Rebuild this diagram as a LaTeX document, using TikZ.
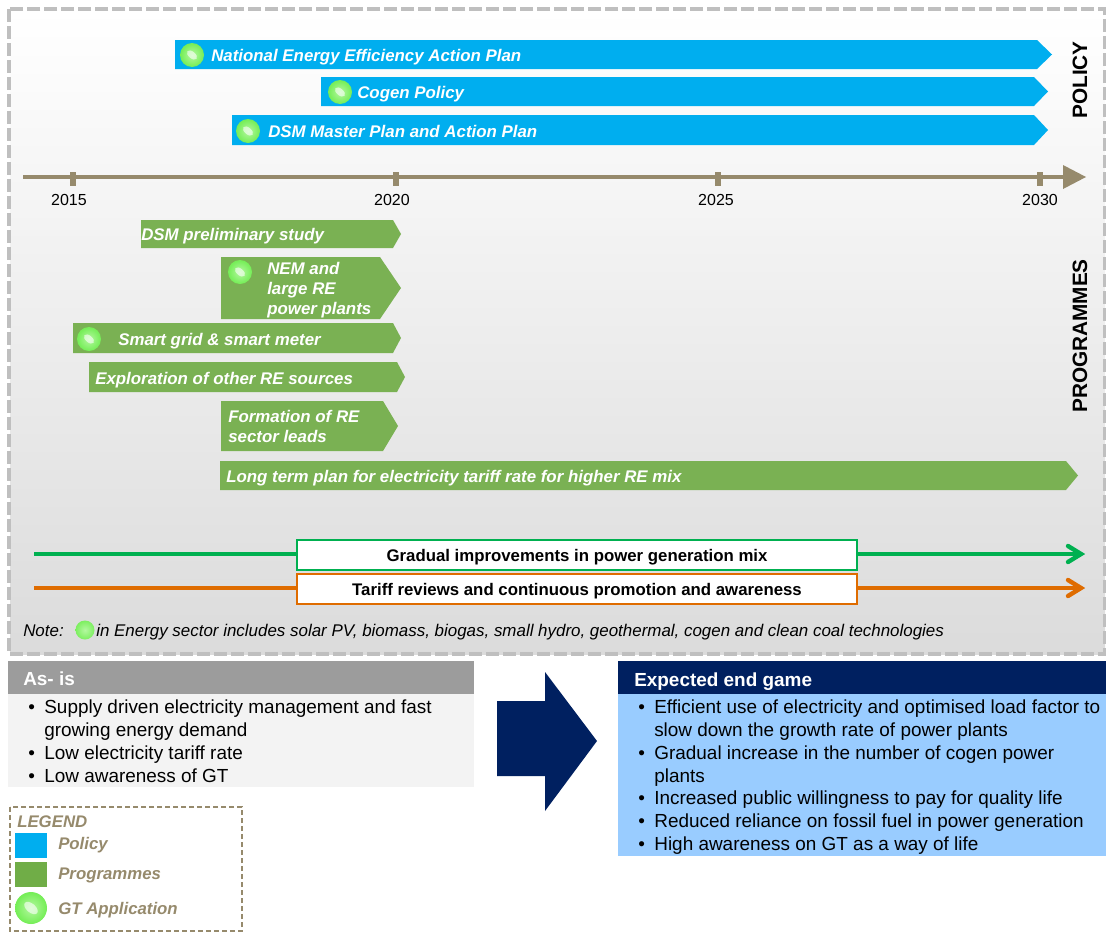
\documentclass[tikz,border=0pt]{standalone}
\usepackage{fontspec}
\setmainfont{Liberation Sans}
\definecolor{polblue}{HTML}{00AEEF}
\definecolor{proggreen}{HTML}{7AB153}
\definecolor{legreen}{HTML}{70AD47}
\definecolor{taupe}{HTML}{968A6C}
\definecolor{frame}{HTML}{BFBFBF}
\definecolor{navy}{HTML}{002060}
\definecolor{lineg}{HTML}{00B050}
\definecolor{lineo}{HTML}{DF6C00}
\definecolor{ballrim}{HTML}{2F9E45}
\definecolor{ballmid}{HTML}{76EE58}
\definecolor{ballin}{HTML}{B4F8A0}
\definecolor{asgray}{HTML}{9C9C9C}
\definecolor{asbody}{HTML}{F3F3F3}
\definecolor{egbody}{HTML}{99CCFF}
\pgfdeclareradialshading{ballsh}{\pgfpoint{0bp}{0bp}}{color(0bp)=(ballin); color(24bp)=(ballmid); color(38bp)=(ballmid); color(50bp)=(ballrim)}
\pgfdeclareradialshading{notesh}{\pgfpoint{0bp}{0bp}}{color(0bp)=(ballin); color(28bp)=(ballmid); color(50bp)=(ballmid!75!ballrim)}
\tikzset{x=0.75pt,y=-0.75pt,
 bartext/.style={anchor=west,inner sep=0pt,font=\fontsize{12.65}{15}\selectfont\bfseries\itshape,text=white,align=left},
 yeartext/.style={inner sep=0pt,font=\fontsize{12}{14}\selectfont},
 sidetext/.style={inner sep=0pt,rotate=90,font=\fontsize{15.6}{18}\selectfont\bfseries},
 boxtext/.style={draw,fill=white,line width=0.9pt,minimum width=420pt,minimum height=22.5pt,inner sep=0pt,text height=9pt,text depth=0pt,font=\fontsize{12.6}{15}\selectfont\bfseries},
 bodytext/.style={anchor=west,inner sep=0pt,font=\fontsize{14.2}{17}\selectfont},
 headtext/.style={anchor=west,inner sep=0pt,font=\fontsize{14.2}{17}\selectfont\bfseries,text=white},
 legtext/.style={anchor=west,inner sep=0pt,font=\fontsize{12.6}{15}\selectfont\bfseries\itshape,text=taupe},
 notetext/.style={anchor=west,inner sep=0pt,font=\fontsize{12.7}{15}\selectfont\itshape},
 flow/.style={line width=3.3pt},
 chevron/.style={line width=3.3pt,line cap=round,line join=miter},
}
\newcommand{\pentagon}[6]{\fill[#6] (#1,#2) -- (#3,#2) -- (#4,{(#2+#5)/2}) -- (#3,#5) -- (#1,#5) -- cycle;}
\newcommand{\gtball}[3]{%
 \shade[shading=ballsh] (#1,#2) circle (#3);
 \fill[white,opacity=0.6,rotate around={-40:(#1,#2)}] (#1,#2) ellipse ({#3*0.5} and {#3*0.28});}
\begin{document}
\begin{tikzpicture}
\useasboundingbox (0,0) rectangle (1106,932);
\fill[white] (0,0) rectangle (1106,932);
% frame
\shade[top color=white,bottom color=black!14] (10,10) rectangle (1105,654);
\draw[frame,line width=2.6pt,dash pattern=on 9.75pt off 3pt] (9,9) rectangle (1105,654);
% policy bars
\pentagon{175}{40}{1037}{1052}{69}{polblue}
\pentagon{321}{77}{1034}{1048}{106}{polblue}
\pentagon{232}{115}{1034}{1048}{145}{polblue}
\gtball{192}{55}{12}
\gtball{340}{92}{12}
\gtball{248}{131}{12}
\node[bartext] (p1) at (211,57) {National Energy Efficiency Action Plan};
\node[bartext] (p2) at (357,94) {Cogen Policy};
\node[bartext] (p3) at (268,131) {DSM Master Plan and Action Plan};
\node[sidetext] (policy) at (1080,80) {POLICY};
% timeline
\coordinate (tl0) at (23,177);
\coordinate (tl1) at (1086,177);
\fill[taupe] (1063,165) -- (1086,177) -- (1063,189) -- cycle;
\draw[taupe,line width=3.4pt] (tl0) -- (1064,177);
\foreach \tx in {73,396,718,1040}{\fill[taupe] (\tx-3,172) rectangle (\tx+3,186);}
\node[yeartext] (y15) at (69,200) {2015};
\node[yeartext] (y20) at (392,200) {2020};
\node[yeartext] (y25) at (716,200) {2025};
\node[yeartext] (y30) at (1040,200) {2030};
% programmes
\pentagon{141}{220}{393}{401}{248}{proggreen}
\pentagon{221}{257}{380}{401}{319}{proggreen}
\pentagon{73}{323}{393}{401}{353}{proggreen}
\pentagon{89}{362}{397}{405}{392}{proggreen}
\pentagon{221}{401}{383}{398}{451}{proggreen}
\pentagon{220}{461}{1066}{1078}{490}{proggreen}
\gtball{240}{272}{12}
\gtball{89}{339}{12}
\node[bartext] (g1) at (141,236) {DSM preliminary study};
\node[bartext] (g2) at (267,290) {NEM and\\large RE\\power plants};
\node[bartext] (g3) at (118,341) {Smart grid \& smart meter};
\node[bartext] (g4) at (95,380) {Exploration of other RE sources};
\node[bartext] (g5) at (228,426) {Formation of RE\\sector leads};
\node[bartext] (g6) at (226,478) {Long term plan for electricity tariff rate for higher RE mix};
\node[sidetext] (prog) at (1080,336) {PROGRAMMES};
% flow lines
\coordinate (gs) at (34,554);
\coordinate (ge) at (1081,554);
\coordinate (os) at (34,588);
\coordinate (oe) at (1081,588);
\node[boxtext,draw=lineg] (gb) at (577,555) {Gradual improvements in power generation mix};
\node[boxtext,draw=lineo] (ob) at (577,589) {Tariff reviews and continuous promotion and awareness};
\draw[lineg,flow] (gs) -- (gs-|gb.west);
\draw[lineg,flow] (ge-|gb.east) -- (ge);
\draw[lineg,chevron] (1068,546) -- (ge) -- (1068,562);
\draw[lineo,flow] (os) -- (os-|ob.west);
\draw[lineo,flow] (oe-|ob.east) -- (oe);
\draw[lineo,chevron] (1068,580) -- (oe) -- (1068,596);
% note
\node[notetext] (note) at (23,631) {Note:};
\shade[shading=notesh] (85,630) circle (9.5);
\node[notetext] (notet) at (96,632) {in Energy sector includes solar PV, biomass, biogas, small hydro, geothermal, cogen and clean coal technologies};
% as-is
\fill[asgray] (8,661) rectangle (474,694);
\fill[asbody] (8,694) rectangle (474,787);
\node[headtext] (ash) at (23,679) {As- is};
\foreach \ty/\tt in {709/{•\hspace{0.5em}Supply driven electricity management and fast},755/{•\hspace{0.5em}Low electricity tariff rate},776/{•\hspace{0.5em}Low awareness of GT}}{\node[bodytext] at (28,\ty) {\tt};}
\node[bodytext] (as2) at (44,732) {growing energy demand};
% big arrow
\fill[navy] (497,701) -- (545,701) -- (545,672) -- (597,741) -- (545,811) -- (545,776) -- (497,776) -- cycle;
% end game
\fill[navy] (618,661) rectangle (1106,694);
\fill[egbody] (618,694) rectangle (1106,856);
\node[headtext] (egh) at (634,682) {Expected end game};
\foreach \ty/\tt in {709/{•\hspace{0.5em}Efficient use of electricity and optimised load factor to},755/{•\hspace{0.5em}Gradual increase in the number of cogen power},800/{•\hspace{0.5em}Increased public willingness to pay for quality life},823/{•\hspace{0.5em}Reduced reliance on fossil fuel in power generation},846/{•\hspace{0.5em}High awareness on GT as a way of life}}{\node[bodytext] at (638,\ty) {\tt};}
\node[bodytext] (eg1) at (654,732) {slow down the growth rate of power plants};
\node[bodytext] (eg2) at (654,778) {plants};
% legend
\draw[taupe,line width=1.1pt,dash pattern=on 4pt off 2pt] (10,807) rectangle (242,931);
\node[legtext] (lg) at (17,822) {LEGEND};
\fill[polblue] (15,833) rectangle (47,858);
\fill[legreen] (15,862) rectangle (47,887);
\gtball{31}{908}{16}
\node[legtext] (l1) at (58,845) {Policy};
\node[legtext] (l2) at (58,875) {Programmes};
\node[legtext] (l3) at (58,910) {GT Application};
\end{tikzpicture}
\end{document}
